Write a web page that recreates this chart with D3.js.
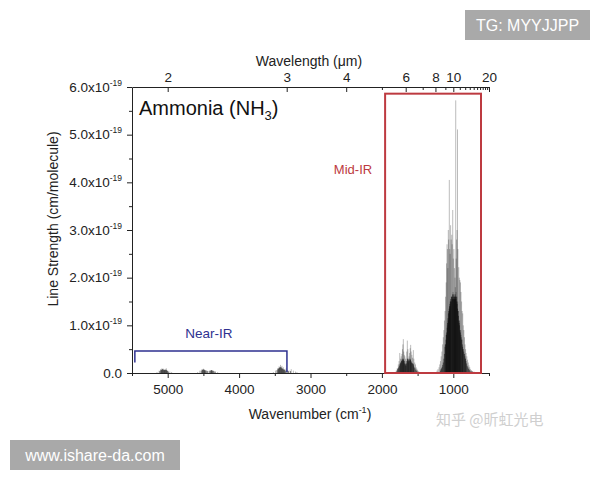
<!DOCTYPE html>
<html><head><meta charset="utf-8">
<script src="https://cdn.jsdelivr.net/npm/d3@7"></script>
<style>
body{margin:0;background:#fff;}
svg{display:block;font-family:"Liberation Sans",Arial,sans-serif;}
</style></head>
<body>
<svg id="chart" width="600" height="480"></svg>
<script>
// ---- data (line strengths in units of 1e-19 cm/molecule) ----
const lineWavenumber = [
  // near-IR band ~5050
  5150,5120,5100,5080,5060,5040,5020,5000,4970,4945,5090,5070,5050,5030,5010,
  // near-IR band ~4450
  4580,4550,4520,4500,4480,4450,4420,4390,4360,4330,4300,4510,4490,4470,4400,4380,4370,
  // near-IR band ~3400
  3520,3490,3460,3440,3420,3400,3380,3360,3340,3320,3300,3270,3240,3210,3190,3450,3430,3410,3390,3370,
  // 6 um band
  1820,1800,1785,1770,1760,1750,1740,1730,1720,1712,1706,1700,1694,1686,1678,1670,1660,1652,1644,1636,1628,1620,1612,1604,1597,1590,1580,1572,1560,1552,1540,1530,1520,1510,1500,1485,1470,
  1740,1725,1715,1690,1675,1665,1645,1630,1615,1600,1585,1565,1555,
  // 10 um band
  1228,1215,1200,1190,1180,1170,1160,1150,1140,1132,1124,1116,1108,1100,1094,1088,1082,1076,1070,1064,1056,1050,1044,1038,1030,1022,1016,1008,1000,992,984,976,966,960,954,948,941,935,924,916,908,900,892,884,876,868,860,852,844,836,828,820,810,800,790,780,770,760,745,730,710,
  1112,1096,1084,1072,1060,1046,1034,1020,1004,988,972,962,950,938,926,912,896,880,864,848,832
];
const lineStrength = [
  0.02,0.05,0.08,0.10,0.09,0.07,0.10,0.05,0.03,0.02,0.06,0.08,0.07,0.06,0.05,
  0.02,0.05,0.08,0.09,0.06,0.05,0.04,0.06,0.05,0.03,0.02,0.07,0.08,0.06,0.05,0.06,0.04,
  0.02,0.05,0.10,0.14,0.17,0.15,0.12,0.08,0.10,0.06,0.05,0.08,0.05,0.03,0.02,0.09,0.12,0.13,0.10,0.08,
  0.02,0.05,0.10,0.18,0.25,0.42,0.30,0.35,0.40,0.50,0.60,0.71,0.45,0.38,0.35,0.30,0.25,0.45,0.68,0.50,0.30,0.35,0.42,0.52,0.59,0.45,0.38,0.32,0.48,0.30,0.22,0.18,0.12,0.09,0.06,0.04,0.02,
  0.22,0.28,0.30,0.25,0.20,0.18,0.30,0.22,0.25,0.28,0.22,0.20,0.15,
  0.05,0.08,0.12,0.18,0.25,0.35,0.45,0.60,0.75,0.90,1.10,1.30,1.60,1.90,2.30,2.70,2.60,2.20,3.00,2.80,4.05,2.60,2.50,3.10,2.80,2.90,2.70,3.42,2.40,2.60,2.20,2.00,5.72,2.40,2.80,3.00,5.11,2.60,2.22,2.00,1.95,1.90,1.70,1.50,1.30,1.25,1.00,0.90,0.75,0.60,0.50,0.42,0.35,0.28,0.22,0.16,0.12,0.08,0.06,0.04,0.03,
  0.6,0.8,1.0,1.1,1.3,1.4,1.5,1.6,1.7,1.6,1.8,1.7,1.6,1.5,1.3,1.1,0.9,0.7,0.5,0.4,0.3
];
// dense weak lines forming the dark base of each band
const weakWavenumber = [
  5110,5095,5085,5075,5065,5055,5045,5035,5025,5015,5005,4990,
  4530,4515,4505,4495,4485,4475,4460,4440,4410,4395,4385,4375,4355,4340,
  3470,3455,3445,3435,3425,3415,3405,3395,3385,3375,3365,3350,3330,3310,3280,
  1790,1780,1772,1764,1756,1748,1742,1734,1726,1718,1710,1702,1696,1688,1680,1672,1664,1656,1648,1640,1632,1624,1618,1608,1600,1592,1584,1576,1568,1558,1548,1538,1526,1514,1504,
  1180,1172,1164,1156,1148,1140,1132,1124,1116,1110,1102,1098,1092,1086,1080,1074,1068,1062,1058,1052,1048,1042,1036,1032,1026,1018,1014,1010,1002,998,994,986,982,978,974,968,964,958,952,946,940,934,928,922,918,914,906,902,894,890,882,874,870,862,854,846,838,830,822,814,806,796,786,776,766,750,735
];
const weakStrength = [
  0.04,0.06,0.07,0.08,0.07,0.06,0.06,0.07,0.07,0.06,0.04,0.03,
  0.05,0.06,0.07,0.07,0.06,0.05,0.05,0.04,0.05,0.05,0.06,0.05,0.04,0.03,
  0.06,0.08,0.10,0.11,0.12,0.12,0.10,0.09,0.08,0.07,0.06,0.05,0.05,0.04,0.04,
  0.05,0.08,0.10,0.12,0.15,0.18,0.20,0.22,0.25,0.25,0.28,0.30,0.28,0.25,0.20,0.18,0.15,0.20,0.25,0.30,0.28,0.25,0.28,0.30,0.28,0.25,0.22,0.20,0.20,0.18,0.12,0.10,0.07,0.05,0.03,
  0.05,0.08,0.10,0.13,0.17,0.22,0.30,0.40,0.55,0.60,0.70,0.80,0.85,0.95,1.05,1.15,1.25,1.30,1.35,1.40,1.45,1.50,1.55,1.50,1.60,1.60,1.55,1.65,1.60,1.55,1.65,1.60,1.55,1.60,1.65,1.60,1.55,1.60,1.50,1.45,1.35,1.30,1.20,1.10,1.05,1.00,0.90,0.85,0.80,0.75,0.70,0.60,0.55,0.50,0.45,0.40,0.35,0.30,0.25,0.20,0.15,0.12,0.09,0.07,0.05,0.04,0.03
];
const wavenumberTicks = [5000,4000,3000,2000,1000];
const wavenumberMinor = [5500,4500,3500,2500,1500,500];
const wavelengthTicks = [2,3,4,6,8,10,20];
const wavelengthMinor = [5,7,9,11,12,13,14,15,16,17,18,19];
const strengthTicks = [0,1,2,3,4,5,6];
const strengthMinor = [0.5,1.5,2.5,3.5,4.5,5.5];
const nearIR = {from:5460, to:3330, level:0.46, left:0.22, label:"Near-IR"};
const midIR = {from:1955, to:612, top:5.86, label:"Mid-IR"};

const svg = d3.select("#chart");
const x = d3.scaleLinear().domain([5500,500]).range([132,489]);
const y = d3.scaleLinear().domain([0,6]).range([373,87]);
const FS = 13.5;

// spectrum lines
const spec = svg.append("g");
spec.append("g").selectAll("line").data(weakWavenumber).join("line")
  .attr("x1", d=>x(d)).attr("x2", d=>x(d))
  .attr("y1", y(0)).attr("y2", (d,i)=>y(weakStrength[i]))
  .attr("stroke","#000").attr("stroke-width",0.8).attr("stroke-opacity",0.6);
spec.append("g").selectAll("line").data(lineWavenumber).join("line")
  .attr("x1", d=>x(d)).attr("x2", d=>x(d))
  .attr("y1", y(0)).attr("y2", (d,i)=>y(lineStrength[i]))
  .attr("stroke","#000").attr("stroke-width",0.6).attr("stroke-opacity",0.45);

// axes
function styleAxis(g){
  g.selectAll("path,line").attr("stroke","#222").attr("stroke-width",1);
  g.selectAll("text").attr("fill","#222").attr("font-size",FS).attr("font-family","Liberation Sans, Arial, sans-serif");
}
const gB = svg.append("g").attr("transform",`translate(0,${y(0)})`)
  .call(d3.axisBottom(x).tickValues(wavenumberTicks).tickSize(5).tickSizeOuter(0).tickPadding(6.5).tickFormat(d3.format("d")));
styleAxis(gB);
const gBm = svg.append("g").attr("transform",`translate(0,${y(0)})`)
  .call(d3.axisBottom(x).tickValues(wavenumberMinor).tickSize(3).tickSizeOuter(0).tickFormat(""));
styleAxis(gBm); gBm.select(".domain").remove();

const gT = svg.append("g").attr("transform",`translate(0,${y(6)})`)
  .call(d3.axisTop(x).tickValues(wavelengthTicks.map(l=>10000/l)).tickSize(-5).tickSizeOuter(0).tickPadding(5)
    .tickFormat(d=>String(Math.round(10000/d))));
styleAxis(gT);
const gTm = svg.append("g").attr("transform",`translate(0,${y(6)})`)
  .call(d3.axisTop(x).tickValues(wavelengthMinor.map(l=>10000/l)).tickSize(-3).tickSizeOuter(0).tickFormat(""));
styleAxis(gTm); gTm.select(".domain").remove();

const gL = svg.append("g").attr("transform",`translate(${x(5500)},0)`)
  .call(d3.axisLeft(y).tickValues(strengthTicks).tickSize(5).tickSizeOuter(0).tickPadding(5));
styleAxis(gL);
gL.selectAll(".tick text").each(function(d){
  const t = d3.select(this); t.text(null);
  if(d===0){ t.append("tspan").text("0.0"); }
  else {
    t.append("tspan").text(d.toFixed(1)+"x10");
    t.append("tspan").attr("dy",-6).attr("font-size",8.5).text("-19");
  }
});
const gLm = svg.append("g").attr("transform",`translate(${x(5500)},0)`)
  .call(d3.axisLeft(y).tickValues(strengthMinor).tickSize(3).tickSizeOuter(0).tickFormat(""));
styleAxis(gLm); gLm.select(".domain").remove();

// axis titles
svg.append("text").attr("x",309).attr("y",66).attr("text-anchor","middle")
  .attr("font-size",14).attr("fill","#222").text("Wavelength (μm)");
const xt = svg.append("text").attr("x",310).attr("y",419).attr("text-anchor","middle")
  .attr("font-size",14).attr("fill","#222");
xt.append("tspan").text("Wavenumber (cm");
xt.append("tspan").attr("dy",-6).attr("font-size",9).text("-1");
xt.append("tspan").attr("dy",6).text(")");
svg.append("text").attr("transform","translate(58,219) rotate(-90)").attr("text-anchor","middle")
  .attr("font-size",14).attr("fill","#222").text("Line Strength (cm/molecule)");

// title
const tt = svg.append("text").attr("x",139).attr("y",115).attr("font-size",20).attr("fill","#111");
tt.append("tspan").text("Ammonia (NH");
tt.append("tspan").attr("dy",5).attr("font-size",13).text("3");
tt.append("tspan").attr("dy",-5).text(")");

// near-IR bracket
const navy = "#2e3190";
svg.append("path")
  .attr("d",`M${x(nearIR.from)},${y(nearIR.left)}V${y(nearIR.level)}H${x(nearIR.to)}V${y(0.02)}`)
  .attr("fill","none").attr("stroke",navy).attr("stroke-width",1.5);
svg.append("text").attr("x",(x(nearIR.from)+x(nearIR.to))/2-2).attr("y",338).attr("text-anchor","middle")
  .attr("font-size",13.5).attr("fill",navy).text(nearIR.label);

// mid-IR box
const red = "#bd3a40";
svg.append("rect").attr("x",x(midIR.from)).attr("y",y(midIR.top))
  .attr("width",x(midIR.to)-x(midIR.from)).attr("height",y(0)-y(midIR.top))
  .attr("fill","none").attr("stroke",red).attr("stroke-width",2);
svg.append("text").attr("x",353).attr("y",174).attr("text-anchor","middle")
  .attr("font-size",13).attr("fill",red).text(midIR.label);

// watermarks
svg.append("rect").attr("x",465).attr("y",10).attr("width",125).attr("height",30).attr("fill","#a9a9a9");
svg.append("text").attr("x",527.5).attr("y",31).attr("text-anchor","middle").attr("font-size",16)
  .attr("fill","#fff").text("TG: MYYJJPP");
svg.append("rect").attr("x",10).attr("y",440).attr("width",170).attr("height",30).attr("fill","#a9a9a9");
svg.append("text").attr("x",95).attr("y",461).attr("text-anchor","middle").attr("font-size",16)
  .attr("fill","#fff").text("www.ishare-da.com");
svg.append("text").attr("x",436).attr("y",425).attr("font-size",15)
  .attr("font-family","Noto Sans CJK SC, sans-serif").attr("fill","#cfcfcf").text("知乎 @昕虹光电");
</script>
</body></html>
